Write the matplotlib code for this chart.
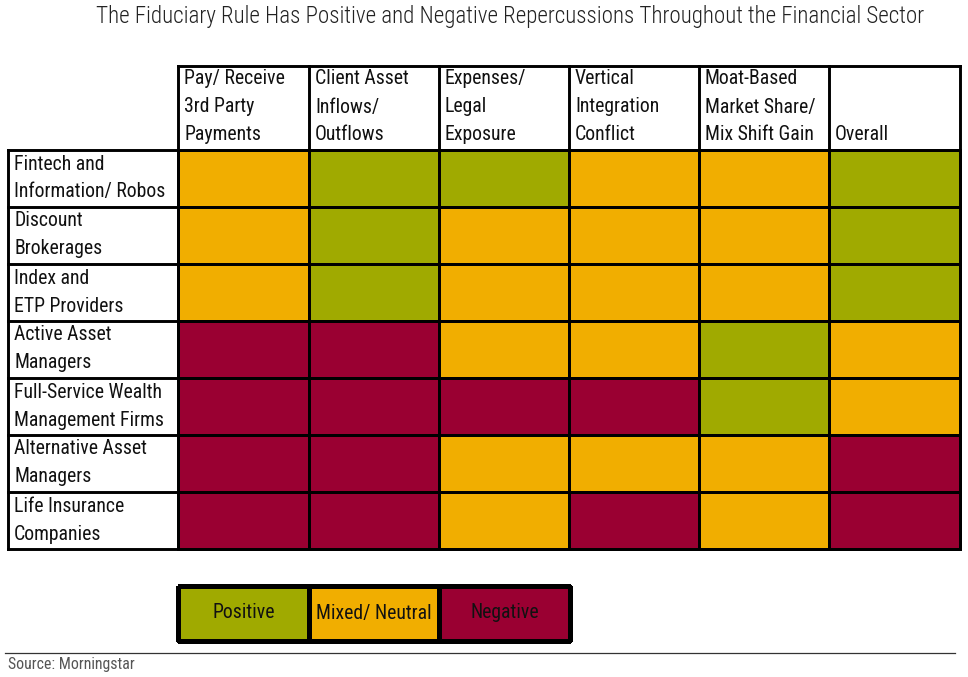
import matplotlib
matplotlib.use("Agg")
import matplotlib.pyplot as plt
from matplotlib.colors import ListedColormap
import numpy as np

plt.rcParams['font.family'] = ['Roboto Condensed', 'DejaVu Sans']

title = "The Fiduciary Rule Has Positive and Negative Repercussions Throughout the Financial Sector"
columns = ["Pay/ Receive\n3rd Party\nPayments", "Client Asset\nInflows/\nOutflows",
           "Expenses/\nLegal\nExposure", "Vertical\nIntegration\nConflict",
           "Moat-Based\nMarket Share/\nMix Shift Gain", "Overall"]
rows = ["Fintech and\nInformation/ Robos", "Discount\nBrokerages", "Index and\nETP Providers",
        "Active Asset\nManagers", "Full-Service Wealth\nManagement Firms",
        "Alternative Asset\nManagers", "Life Insurance\nCompanies"]
# 0 = positive, 1 = mixed/neutral, 2 = negative
ratings = [
    [1, 0, 0, 1, 1, 0],
    [1, 0, 1, 1, 1, 0],
    [1, 0, 1, 1, 1, 0],
    [2, 2, 1, 1, 0, 1],
    [2, 2, 2, 2, 0, 1],
    [2, 2, 1, 1, 1, 2],
    [2, 2, 1, 2, 1, 2],
]
legend_labels = ["Positive", "Mixed/ Neutral", "Negative"]
colors = ["#A0AA00", "#F1AE00", "#9A0032"]
source = "Source: Morningstar"

W, H = 968, 677
fig = plt.figure(figsize=(W / 100, H / 100), dpi=100)
ax = fig.add_axes([0, 0, 1, 1])
ax.set_xlim(0, W)
ax.set_ylim(H, 0)
ax.axis('off')

cmap = ListedColormap(colors)
lw = 2.1

# grid geometry (pixels)
xs = np.array([178, 309, 439, 569, 699, 829, 960])
ys = np.array([150, 207, 264, 321, 378, 435, 492, 549])
label_x0 = 8
head_y0 = 66

ax.pcolormesh(xs, ys, np.array(ratings), cmap=cmap, vmin=-0.5, vmax=2.5,
              edgecolors='black', linewidth=lw)

# header box
for x in xs:
    ax.plot([x, x], [head_y0, ys[0]], color='black', lw=lw, solid_capstyle='projecting')
ax.plot([xs[0], xs[-1]], [head_y0, head_y0], color='black', lw=lw, solid_capstyle='projecting')
# row label box
for y in ys:
    ax.plot([label_x0, xs[0]], [y, y], color='black', lw=lw, solid_capstyle='projecting')
ax.plot([label_x0, label_x0], [ys[0], ys[-1]], color='black', lw=lw, solid_capstyle='projecting')
ax.plot([xs[-1], xs[-1]], [ys[0], ys[-1]], color='black', lw=lw, solid_capstyle='projecting')

fs = 14.2
for i, c in enumerate(columns):
    lines = c.split("\n")
    for k, ln in enumerate(lines):
        yk = 135 - 28 * (len(lines) - 1 - k)
        ax.text(xs[i] + 6, yk, ln, fontsize=fs, ha='left', va='center', color='#111111')
for j, r in enumerate(rows):
    lines = r.split("\n")
    for k, ln in enumerate(lines):
        ax.text(label_x0 + 6, ys[j] + 14 + 28 * k, ln, fontsize=fs, ha='left',
                va='center', color='#111111')

ax.text(510, 17, title, fontsize=16.6, ha='center', va='center', color='#222222',
        fontweight='light')

# legend
lx = np.array([178, 309, 439, 570])
ly = np.array([586, 641])
ax.pcolormesh(lx, ly, np.array([[0, 1, 2]]), cmap=cmap, vmin=-0.5, vmax=2.5,
              edgecolors='black', linewidth=lw * 1.1)
for i, t in enumerate(legend_labels):
    ax.text((lx[i] + lx[i + 1]) / 2, 613, t, fontsize=fs, ha='center', va='center',
            color='#111111')

ax.plot([5, 955], [653, 653], color='#333333', lw=0.9)
ax.text(8, 665, source, fontsize=11.4, ha='left', va='center', color='#555555')

fig.savefig("out.png", dpi=100)
